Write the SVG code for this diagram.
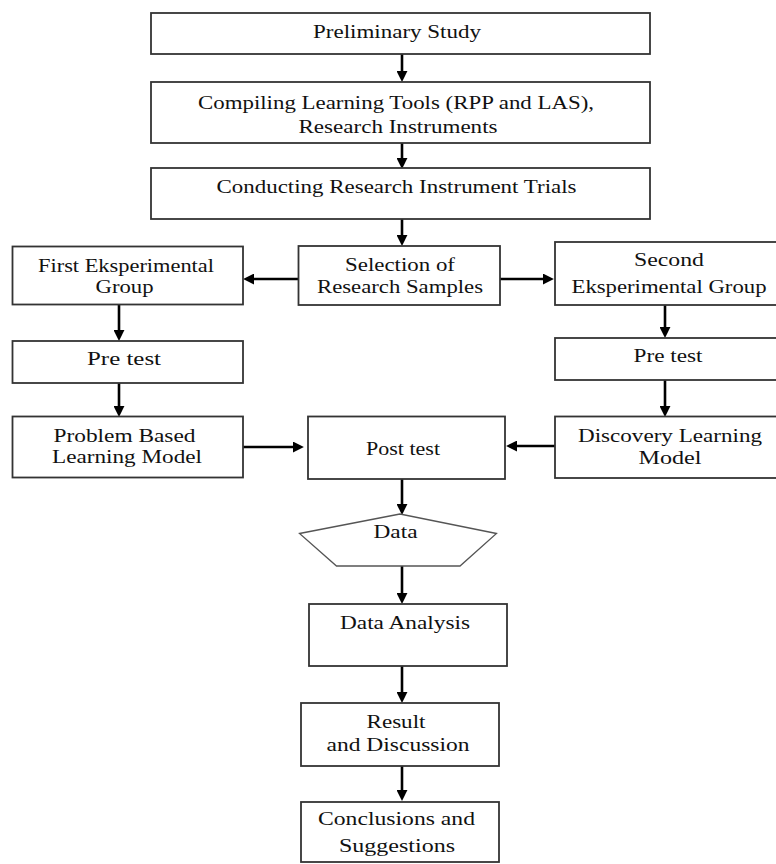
<svg xmlns="http://www.w3.org/2000/svg" width="776" height="864" viewBox="0 0 776 864">
<style>
.box{fill:#fff;stroke:#333;stroke-width:1.8}
.pent{fill:#fff;stroke:#555;stroke-width:1.3}
.t{font-family:"Liberation Serif","Times New Roman",serif;font-size:18px;fill:#111;text-anchor:middle}
.c{stroke:#000;stroke-width:2.6;fill:none;marker-end:url(#ah)}
</style>
<defs>
<marker id="ah" viewBox="0 0 10 10" markerWidth="11" markerHeight="11" markerUnits="userSpaceOnUse" refX="1" refY="5" orient="auto">
<path d="M0,0 L10,5 L0,10 z" fill="#000"/>
</marker>
</defs>
<rect width="776" height="864" fill="#fff"/>
<g id="connectors">
<line class="c" x1="402" y1="54" x2="402" y2="72"/>
<line class="c" x1="402" y1="143" x2="402" y2="159"/>
<line class="c" x1="402" y1="219" x2="402" y2="236"/>
<line class="c" x1="298" y1="279" x2="253" y2="279"/>
<line class="c" x1="500" y1="279" x2="544" y2="279"/>
<line class="c" x1="119" y1="304" x2="119" y2="331"/>
<line class="c" x1="665" y1="305" x2="665" y2="328"/>
<line class="c" x1="119" y1="383" x2="119" y2="407"/>
<line class="c" x1="665" y1="380" x2="665" y2="407"/>
<line class="c" x1="243" y1="447" x2="294" y2="447"/>
<line class="c" x1="555" y1="446" x2="516" y2="446"/>
<line class="c" x1="402" y1="479" x2="402" y2="505"/>
<line class="c" x1="402" y1="566" x2="402" y2="594"/>
<line class="c" x1="402" y1="666" x2="402" y2="693"/>
<line class="c" x1="402" y1="766" x2="402" y2="791"/>
</g>
<g id="n1"><rect class="box" x="151" y="13" width="499" height="41"/><text class="t" x="397" y="38" textLength="168" lengthAdjust="spacingAndGlyphs">Preliminary  Study</text></g>
<g id="n2"><rect class="box" x="151" y="82" width="499" height="61"/><text class="t" x="396" y="109" textLength="396" lengthAdjust="spacingAndGlyphs">Compiling  Learning Tools (RPP  and LAS),</text><text class="t" x="398" y="133" textLength="199" lengthAdjust="spacingAndGlyphs">Research Instruments</text></g>
<g id="n3"><rect class="box" x="151" y="168" width="499" height="51"/><text class="t" x="396.5" y="193" textLength="360" lengthAdjust="spacingAndGlyphs">Conducting Research Instrument Trials</text></g>
<g id="n4"><rect class="box" x="298.5" y="246" width="201.5" height="59"/><text class="t" x="400" y="271" textLength="110" lengthAdjust="spacingAndGlyphs">Selection of</text><text class="t" x="400" y="293" textLength="166" lengthAdjust="spacingAndGlyphs">Research Samples</text></g>
<g id="n5"><rect class="box" x="12.5" y="246.5" width="230.5" height="58"/><text class="t" x="126" y="272" textLength="176" lengthAdjust="spacingAndGlyphs">First Eksperimental</text><text class="t" x="124.5" y="293" textLength="58" lengthAdjust="spacingAndGlyphs">Group</text></g>
<g id="n6"><rect class="box" x="555" y="242" width="225" height="63"/><text class="t" x="669" y="266" textLength="70" lengthAdjust="spacingAndGlyphs">Second</text><text class="t" x="669" y="293" textLength="195" lengthAdjust="spacingAndGlyphs">Eksperimental Group</text></g>
<g id="n7"><rect class="box" x="12.5" y="341" width="230.5" height="42"/><text class="t" x="124" y="365" textLength="74" lengthAdjust="spacingAndGlyphs">Pre test</text></g>
<g id="n8"><rect class="box" x="555" y="338" width="225" height="42"/><text class="t" x="668" y="362" textLength="69" lengthAdjust="spacingAndGlyphs">Pre test</text></g>
<g id="n9"><rect class="box" x="12.5" y="416.5" width="230.5" height="61"/><text class="t" x="124.5" y="442" textLength="142" lengthAdjust="spacingAndGlyphs">Problem Based</text><text class="t" x="127" y="463" textLength="150" lengthAdjust="spacingAndGlyphs">Learning Model</text></g>
<g id="n10"><rect class="box" x="308" y="416.5" width="197" height="62.5"/><text class="t" x="403" y="455" textLength="74" lengthAdjust="spacingAndGlyphs">Post test</text></g>
<g id="n11"><rect class="box" x="555" y="416.5" width="225" height="61.5"/><text class="t" x="670" y="442" textLength="184" lengthAdjust="spacingAndGlyphs">Discovery Learning</text><text class="t" x="670" y="464" textLength="63" lengthAdjust="spacingAndGlyphs">Model</text></g>
<g id="n12"><polygon class="pent" points="400,514 299.5,533.5 336.5,566 460,566 496.5,533.5"/><text class="t" x="395.5" y="538" textLength="44" lengthAdjust="spacingAndGlyphs">Data</text></g>
<g id="n13"><rect class="box" x="309" y="604" width="198" height="62"/><text class="t" x="405" y="629" textLength="130" lengthAdjust="spacingAndGlyphs">Data Analysis</text></g>
<g id="n14"><rect class="box" x="301" y="703" width="198" height="63"/><text class="t" x="396" y="728" textLength="59" lengthAdjust="spacingAndGlyphs">Result</text><text class="t" x="398" y="751" textLength="143" lengthAdjust="spacingAndGlyphs">and Discussion</text></g>
<g id="n15"><rect class="box" x="301" y="802" width="198" height="60"/><text class="t" x="396.5" y="825" textLength="157" lengthAdjust="spacingAndGlyphs">Conclusions and</text><text class="t" x="397" y="852" textLength="116" lengthAdjust="spacingAndGlyphs">Suggestions</text></g>
</svg>
